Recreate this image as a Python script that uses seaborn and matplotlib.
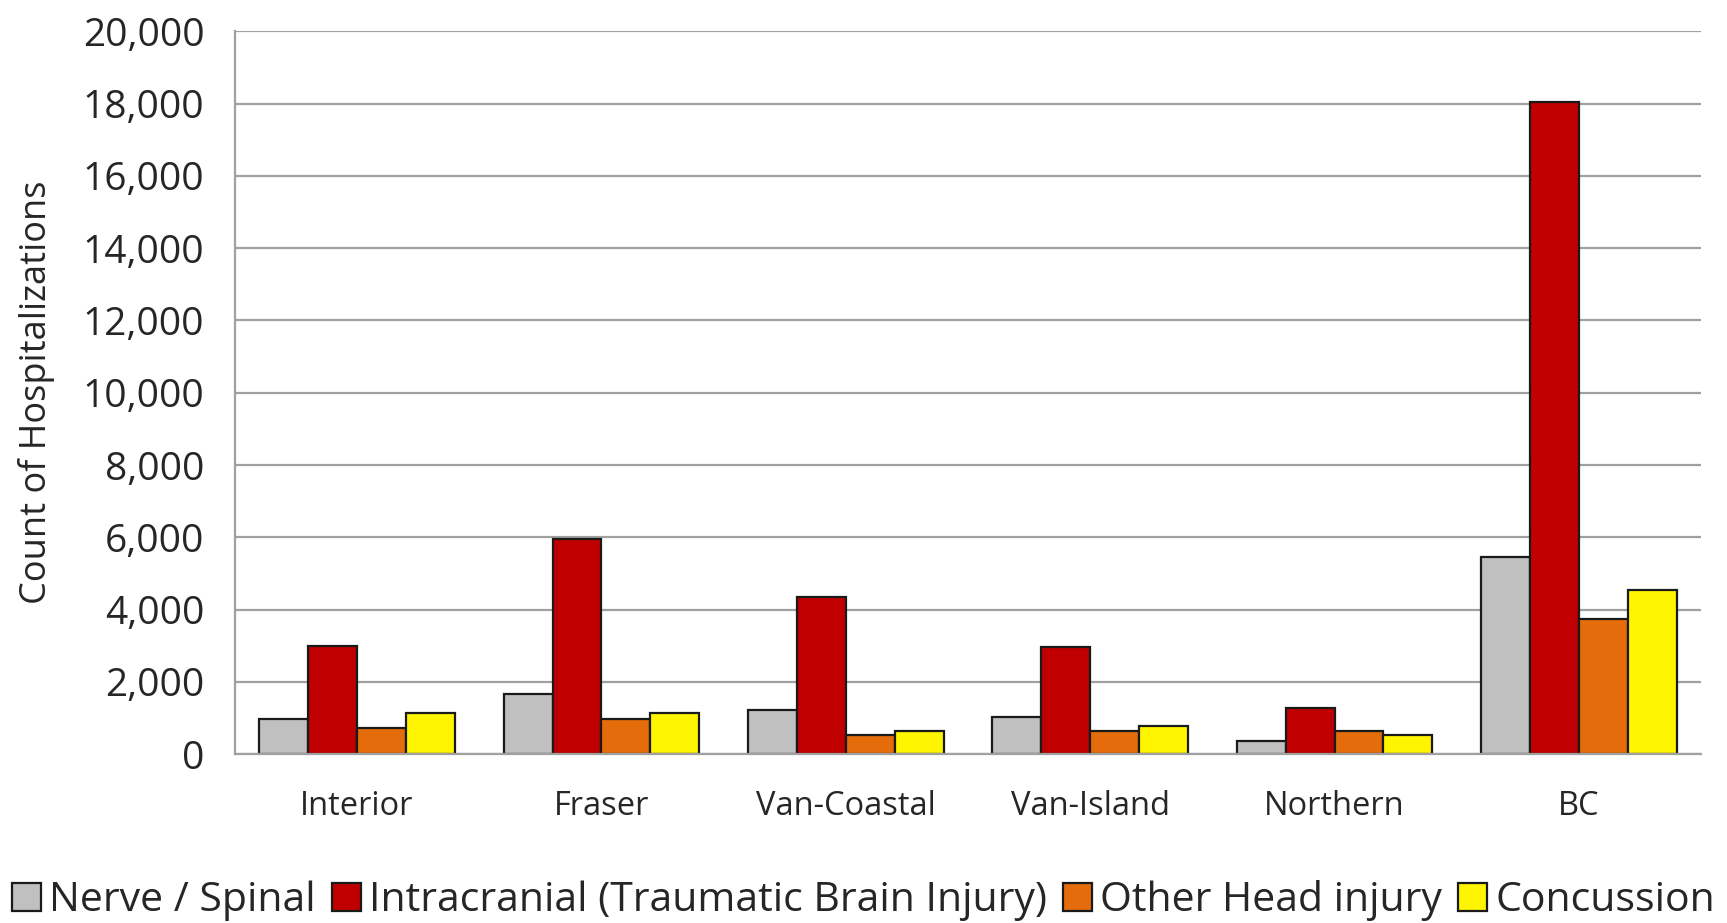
import numpy as np
import pandas as pd
import seaborn as sns
import matplotlib.pyplot as plt
from matplotlib.ticker import FuncFormatter, FixedLocator

# data
regions = ["Interior", "Fraser", "Van-Coastal", "Van-Island", "Northern", "BC"]
injuries = ["Nerve / Spinal", "Intracranial (Traumatic Brain Injury)",
            "Other Head injury", "Concussion"]
nerve_spinal = [970, 1660, 1220, 1030, 360, 5460]
intracranial = [3000, 5960, 4360, 2950, 1270, 18050]
other_head = [720, 970, 530, 650, 650, 3730]
concussion = [1150, 1150, 650, 770, 520, 4550]
colors = ["#C0C0C0", "#C00000", "#E46C0A", "#FFF500"]

df = pd.DataFrame({
    "region": regions * 4,
    "injury": np.repeat(injuries, len(regions)),
    "count": nerve_spinal + intracranial + other_head + concussion,
})

sns.set_style("white")
plt.rcParams['font.family'] = ['Open Sans', 'DejaVu Sans']

fig = plt.figure(figsize=(17.27, 9.23), dpi=100)
ax = fig.add_axes([0.136, 0.183, 0.849, 0.783])

sns.barplot(data=df, x="region", y="count", hue="injury", hue_order=injuries,
            palette=colors, width=0.80, edgecolor="#1a1a1a", linewidth=1.6,
            saturation=1, ax=ax, legend=True)

ax.set_ylim(0, 20000)
ax.set_xlim(-0.5, 5.5)
ax.set_yticks(range(0, 20001, 2000))
ax.yaxis.set_major_formatter(FuncFormatter(lambda v, p: f"{int(v):,}"))
ax.yaxis.grid(True, color="#a0a0a0", linewidth=1.6)
ax.set_axisbelow(True)

ax.xaxis.set_minor_locator(FixedLocator(np.arange(-0.5, 6, 1)))
ax.tick_params(axis="x", which="major", length=0, labelsize=23.5, pad=26)
ax.tick_params(axis="x", which="minor", length=15, width=1.6, color="#a0a0a0")
ax.tick_params(axis="y", length=14, width=1.6, color="#a0a0a0", labelsize=28, pad=8)
for s in ["top", "right"]:
    ax.spines[s].set_visible(False)
for s in ["left", "bottom"]:
    ax.spines[s].set_color("#a0a0a0")
    ax.spines[s].set_linewidth(1.6)

ax.set_xlabel("")
ax.set_ylabel("Count of Hospitalizations", fontsize=26, labelpad=20)

handles, labels = ax.get_legend_handles_labels()
ax.get_legend().remove()
fig.legend(handles, labels, loc="center", bbox_to_anchor=(0.5, 0.024), ncol=4,
           frameon=False, fontsize=29.5, handlelength=0.7, handleheight=0.7,
           handletextpad=0.2, columnspacing=0.4, borderaxespad=0)

fig.savefig("out.png", dpi=100)
